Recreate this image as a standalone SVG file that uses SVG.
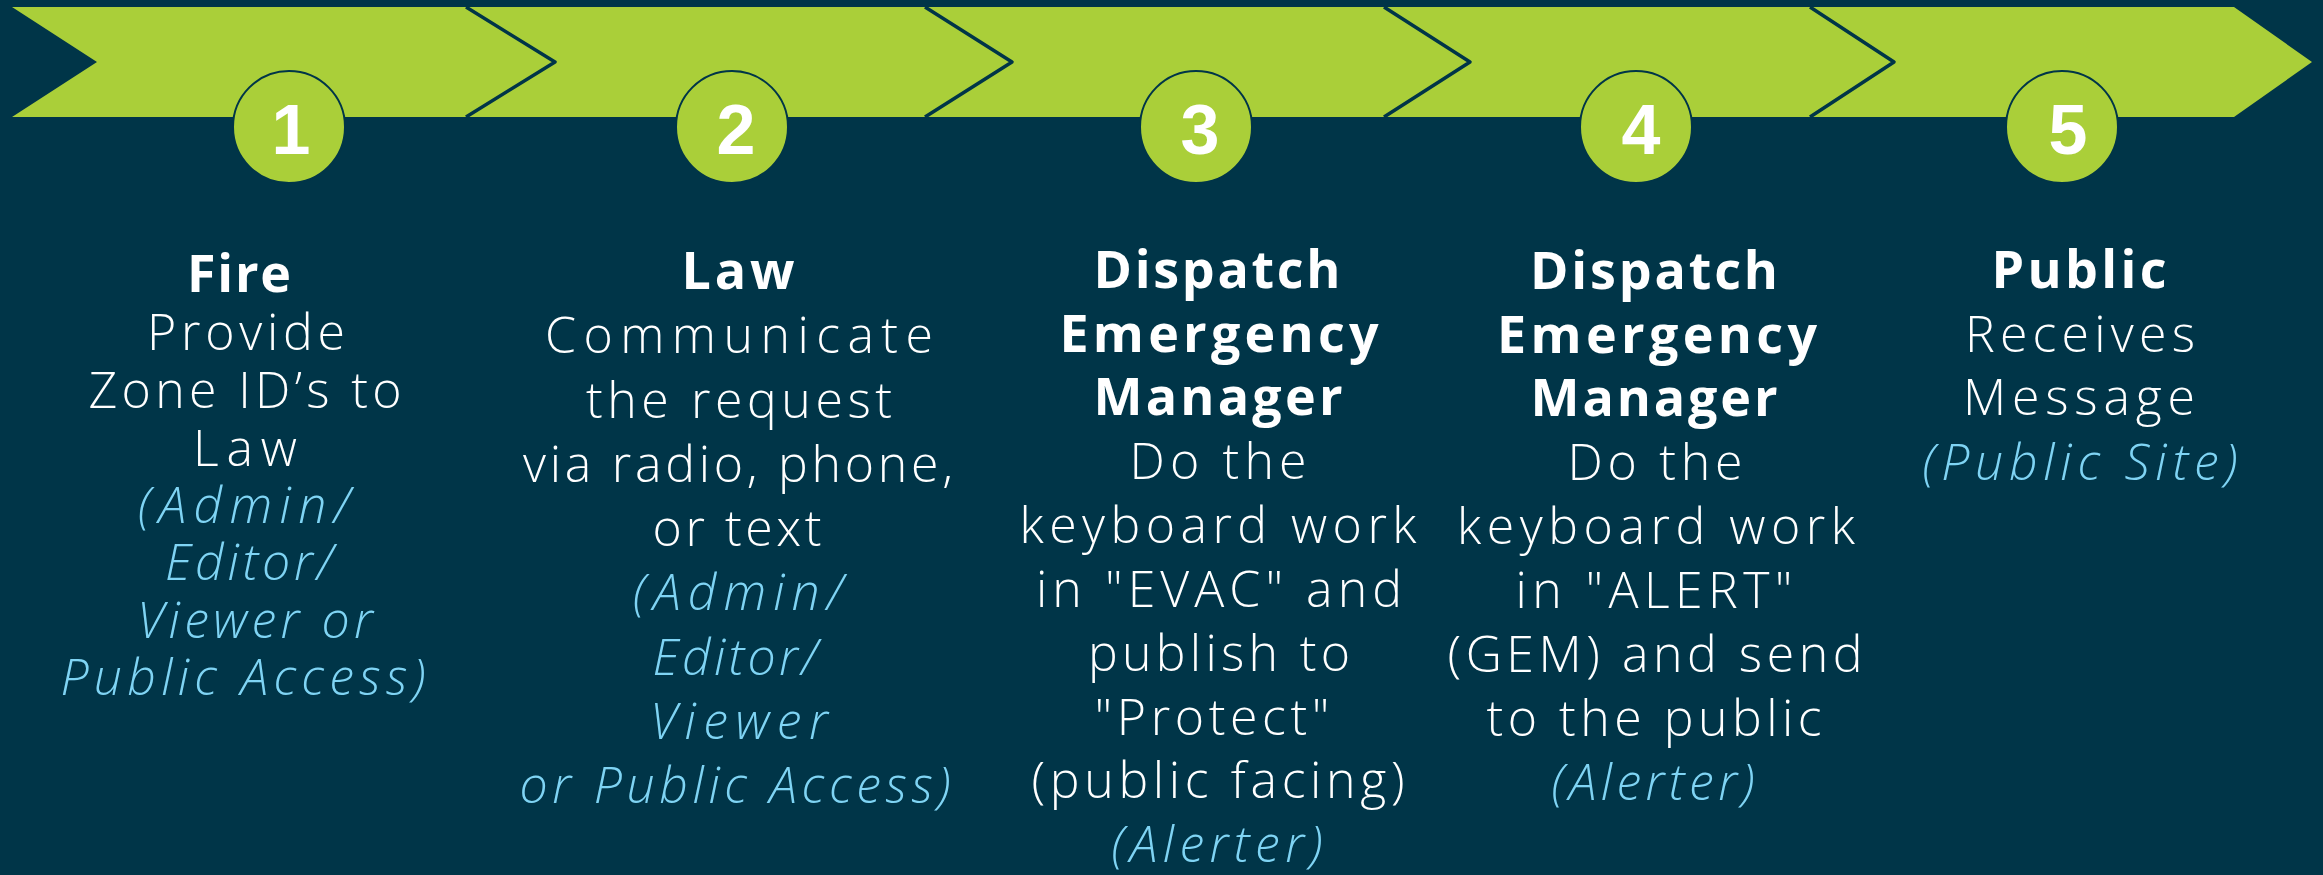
<svg xmlns="http://www.w3.org/2000/svg" width="2323" height="875" viewBox="0 0 2323 875">
<style>
.bg{fill:#003548}
.band{fill:#aacf39}
.sep{fill:none;stroke:#003548;stroke-width:3.5;stroke-linejoin:round}
.badge{fill:#aacf39;stroke:#003548;stroke-width:2}
.num{font-family:"Liberation Sans",Arial,sans-serif;font-weight:700;font-size:70px;fill:#ffffff;text-anchor:middle}
text.t{font-family:"Open Sans","Liberation Sans",sans-serif;font-size:50px;fill:#ffffff;text-anchor:middle;font-weight:300}
text.h{font-family:"Open Sans","Liberation Sans",sans-serif;font-size:52px;fill:#ffffff;text-anchor:middle;font-weight:700}
text.r{font-family:"Open Sans","Liberation Sans",sans-serif;font-size:50px;fill:#7fd4f4;text-anchor:middle;font-style:italic;font-weight:300}
</style>
<rect class="bg" x="0" y="0" width="2323" height="875"/>
<g id="chevrons">
<polygon class="band" points="12,7 2234,7 2312,62 2234,117 12,117 97,62"/>
<polyline class="sep" points="466,7 555,62 466,117"/>
<polyline class="sep" points="925,7 1012,62 925,117"/>
<polyline class="sep" points="1384,7 1470,62 1384,117"/>
<polyline class="sep" points="1810,7 1894,62 1810,117"/>
</g>
<g id="step1">
<circle class="badge" cx="289" cy="127" r="56"/>
<text class="num" x="291" y="154">1</text>
<text class="h" x="239" y="292" textLength="104" lengthAdjust="spacing">Fire</text>
<text class="t" x="246" y="350" textLength="198" lengthAdjust="spacing">Provide</text>
<text class="t" x="245" y="408" textLength="313" lengthAdjust="spacing">Zone ID’s to</text>
<text class="t" x="245" y="466" textLength="104" lengthAdjust="spacing">Law</text>
<text class="r" x="244" y="523" textLength="212" lengthAdjust="spacing">(Admin/</text>
<text class="r" x="249" y="580" textLength="168" lengthAdjust="spacing">Editor/</text>
<text class="r" x="255" y="638" textLength="236" lengthAdjust="spacing">Viewer or</text>
<text class="r" x="243" y="695" textLength="365" lengthAdjust="spacing">Public Access)</text>
</g>
<g id="step2">
<circle class="badge" cx="732" cy="127" r="56"/>
<text class="num" x="736" y="154">2</text>
<text class="h" x="738" y="289" textLength="113" lengthAdjust="spacing">Law</text>
<text class="t" x="739" y="353" textLength="388" lengthAdjust="spacing">Communicate</text>
<text class="t" x="739" y="418" textLength="306" lengthAdjust="spacing">the request</text>
<text class="t" x="738" y="482" textLength="430" lengthAdjust="spacing">via radio, phone,</text>
<text class="t" x="737" y="546" textLength="169" lengthAdjust="spacing">or text</text>
<text class="r" x="738" y="610" textLength="210" lengthAdjust="spacing">(Admin/</text>
<text class="r" x="735" y="675" textLength="165" lengthAdjust="spacing">Editor/</text>
<text class="r" x="739" y="739" textLength="178" lengthAdjust="spacing">Viewer</text>
<text class="r" x="735" y="803" textLength="431" lengthAdjust="spacing">or Public Access)</text>
</g>
<g id="step3">
<circle class="badge" cx="1196" cy="127" r="56"/>
<text class="num" x="1200" y="154">3</text>
<text class="h" x="1217" y="288" textLength="247" lengthAdjust="spacing">Dispatch</text>
<text class="h" x="1219" y="352" textLength="319" lengthAdjust="spacing">Emergency</text>
<text class="h" x="1218" y="415" textLength="249" lengthAdjust="spacing">Manager</text>
<text class="t" x="1218" y="479" textLength="177" lengthAdjust="spacing">Do the</text>
<text class="t" x="1218" y="543" textLength="397" lengthAdjust="spacing">keyboard work</text>
<text class="t" x="1219" y="607" textLength="366" lengthAdjust="spacing">in "EVAC" and</text>
<text class="t" x="1219" y="671" textLength="262" lengthAdjust="spacing">publish to</text>
<text class="t" x="1212" y="735" textLength="235" lengthAdjust="spacing">"Protect"</text>
<text class="t" x="1218" y="798" textLength="373" lengthAdjust="spacing">(public facing)</text>
<text class="r" x="1217" y="862" textLength="211" lengthAdjust="spacing">(Alerter)</text>
</g>
<g id="step4">
<circle class="badge" cx="1636" cy="127" r="56"/>
<text class="num" x="1641" y="154">4</text>
<text class="h" x="1654" y="289" textLength="248" lengthAdjust="spacing">Dispatch</text>
<text class="h" x="1657" y="353" textLength="320" lengthAdjust="spacing">Emergency</text>
<text class="h" x="1654" y="416" textLength="247" lengthAdjust="spacing">Manager</text>
<text class="t" x="1655" y="480" textLength="175" lengthAdjust="spacing">Do the</text>
<text class="t" x="1656" y="544" textLength="398" lengthAdjust="spacing">keyboard work</text>
<text class="t" x="1654" y="608" textLength="277" lengthAdjust="spacing">in "ALERT"</text>
<text class="t" x="1655" y="672" textLength="415" lengthAdjust="spacing">(GEM) and send</text>
<text class="t" x="1654" y="736" textLength="335" lengthAdjust="spacing">to the public</text>
<text class="r" x="1653" y="800" textLength="203" lengthAdjust="spacing">(Alerter)</text>
</g>
<g id="step5">
<circle class="badge" cx="2062" cy="127" r="56"/>
<text class="num" x="2068" y="154">5</text>
<text class="h" x="2079" y="288" textLength="175" lengthAdjust="spacing">Public</text>
<text class="t" x="2080" y="352" textLength="230" lengthAdjust="spacing">Receives</text>
<text class="t" x="2079" y="415" textLength="232" lengthAdjust="spacing">Message</text>
<text class="r" x="2080" y="480" textLength="315" lengthAdjust="spacing">(Public Site)</text>
</g>
</svg>
